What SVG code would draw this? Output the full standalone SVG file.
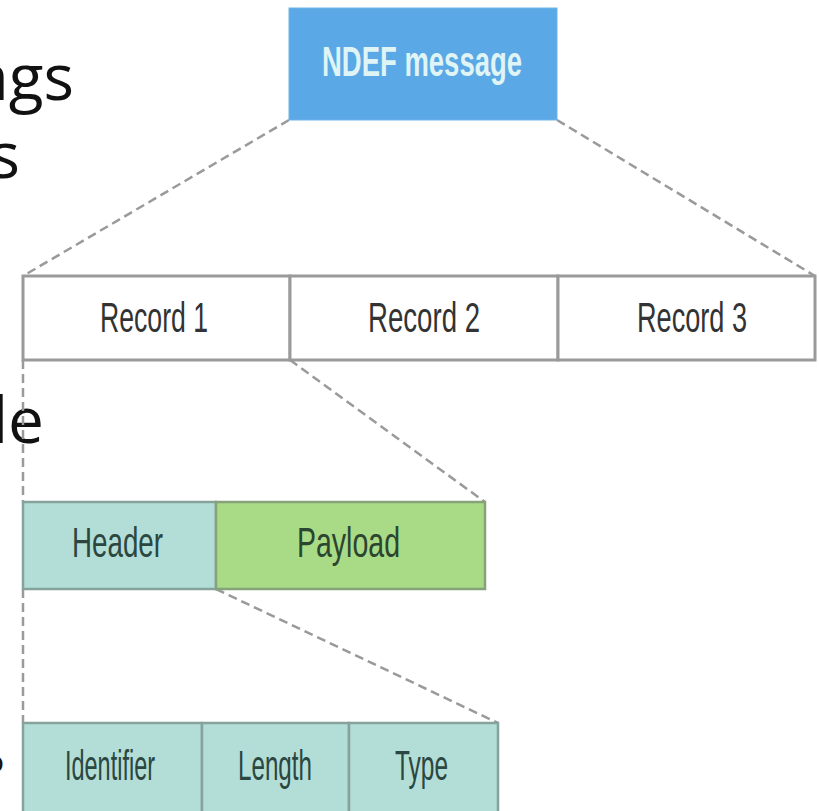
<svg xmlns="http://www.w3.org/2000/svg" width="819" height="811" viewBox="0 0 819 811">
  <style>
    .slide { font-family: "Open Sans", "Noto Sans", sans-serif; font-size: 64px; fill: #111; }
    .lbl { font-family: "Liberation Sans", Arial, sans-serif; font-size: 42px; }
    .rec { fill: #ffffff; stroke: #9a9a9a; stroke-width: 3; }
    .hdr { fill: #b3ded7; stroke: #86a29c; stroke-width: 2.5; }
    .pay { fill: #a9da86; stroke: #86a27a; stroke-width: 2.5; }
    .dash { stroke: #9a9a9a; stroke-width: 2.5; stroke-dasharray: 9 5; fill: none; }
  </style>
  <rect width="819" height="811" fill="#ffffff"/>

  <!-- slide text cut at the left edge -->
  <g id="slide-text">
    <text class="slide" x="74" y="100" text-anchor="end">ags</text>
    <text class="slide" x="20" y="178" text-anchor="end">s</text>
    <text class="slide" x="44" y="443" text-anchor="end">le</text>
    <text class="slide" x="4" y="772" text-anchor="end" style="font-size:30px">o</text>
  </g>

  <!-- zoom connectors -->
  <g id="connectors">
    <line class="dash" x1="289" y1="120" x2="23" y2="276"/>
    <line class="dash" x1="557" y1="120" x2="815" y2="276"/>
    <line class="dash" x1="290" y1="360" x2="485" y2="502"/>
    <line class="dash" x1="23" y1="360" x2="23" y2="502"/>
    <line class="dash" x1="23" y1="589" x2="23" y2="723"/>
    <line class="dash" x1="216" y1="589" x2="498" y2="723"/>
  </g>

  <g id="ndef-message">
    <rect x="289" y="8" width="268" height="112" fill="#5ba8e6" stroke="#6fb3ea" stroke-width="1"/>
    <text class="lbl" x="322" y="76" textLength="200" lengthAdjust="spacingAndGlyphs" style="font-weight:bold; fill:#dff4f4">NDEF message</text>
  </g>

  <g id="record-1">
    <rect class="rec" x="23" y="276" width="267" height="84"/>
    <text class="lbl" x="100" y="332" textLength="108" lengthAdjust="spacingAndGlyphs" fill="#333">Record 1</text>
  </g>
  <g id="record-2">
    <rect class="rec" x="290" y="276" width="268" height="84"/>
    <text class="lbl" x="368" y="332" textLength="112" lengthAdjust="spacingAndGlyphs" fill="#333">Record 2</text>
  </g>
  <g id="record-3">
    <rect class="rec" x="558" y="276" width="257" height="84"/>
    <text class="lbl" x="637" y="332" textLength="110" lengthAdjust="spacingAndGlyphs" fill="#333">Record 3</text>
  </g>

  <g id="header">
    <rect class="hdr" x="23" y="502" width="193" height="87"/>
    <text class="lbl" x="72" y="557" textLength="91" lengthAdjust="spacingAndGlyphs" fill="#2b4740">Header</text>
  </g>
  <g id="payload">
    <rect class="pay" x="216" y="502" width="269" height="87"/>
    <text class="lbl" x="297" y="557" textLength="103" lengthAdjust="spacingAndGlyphs" fill="#2b4530">Payload</text>
  </g>

  <g id="identifier">
    <rect class="hdr" x="23" y="723" width="179" height="110"/>
    <text class="lbl" x="65" y="780" textLength="90" lengthAdjust="spacingAndGlyphs" fill="#2b4740">Identifier</text>
  </g>
  <g id="length">
    <rect class="hdr" x="202" y="723" width="147" height="110"/>
    <text class="lbl" x="238" y="780" textLength="74" lengthAdjust="spacingAndGlyphs" fill="#2b4740">Length</text>
  </g>
  <g id="type">
    <rect class="hdr" x="349" y="723" width="149" height="110"/>
    <text class="lbl" x="395" y="780" textLength="53" lengthAdjust="spacingAndGlyphs" fill="#2b4740">Type</text>
  </g>
</svg>
